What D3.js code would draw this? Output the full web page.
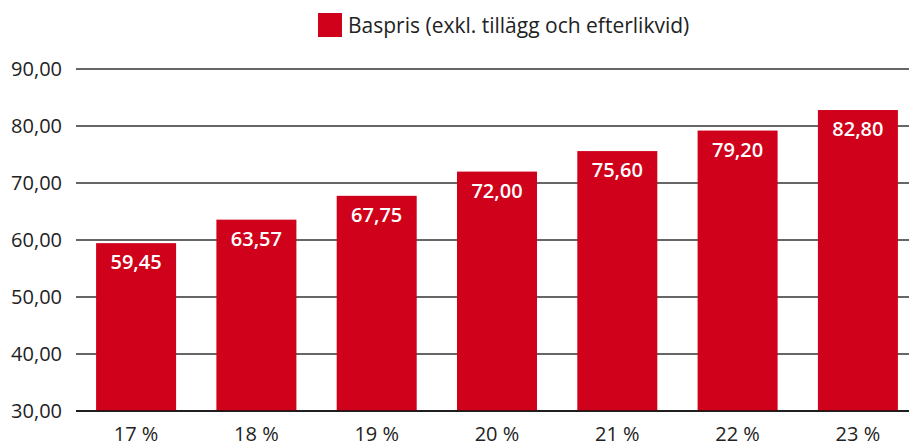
<!DOCTYPE html>
<html><head><meta charset="utf-8">
<script src="https://cdn.jsdelivr.net/npm/d3@7"></script>
<style>body{margin:0;background:#fff}svg{display:block;font-family:"Open Sans",sans-serif}</style>
</head><body>
<svg id="c" width="909" height="447"></svg>
<script>
const categories = ["17 %","18 %","19 %","20 %","21 %","22 %","23 %"];
const values = [59.45,63.57,67.75,72.00,75.60,79.20,82.80];
const yTicks = [30,40,50,60,70,80,90];
const seriesName = "Baspris (exkl. tillägg och efterlikvid)";
const fmt = v => v.toFixed(2).replace(".", ",");
const red = "#d0021b";

const svg = d3.select("#c");
const x = d3.scaleBand().domain(categories).range([76, 918]).paddingInner(0.335).paddingOuter(0.167);
const y = d3.scaleLinear().domain([30, 90]).range([411, 69]);

// gridlines
svg.append("g").selectAll("line").data(yTicks).join("line")
  .attr("x1", 76).attr("x2", 909)
  .attr("y1", d => y(d)).attr("y2", d => y(d))
  .attr("stroke", d => d === 30 ? "#111" : "#333").attr("stroke-width", 1.3);

// y labels
svg.append("g").selectAll("text").data(yTicks).join("text")
  .attr("x", 62).attr("y", d => y(d)).attr("dy", "0.36em")
  .attr("text-anchor", "end").attr("font-size", 20).attr("fill", "#222")
  .text(fmt);

// bars
svg.append("g").selectAll("rect").data(values).join("rect")
  .attr("x", (d, i) => x(categories[i])).attr("width", x.bandwidth())
  .attr("y", d => y(d)).attr("height", d => y(30) - y(d))
  .attr("fill", red);

// redraw baseline on top
svg.append("line").attr("x1", 76).attr("x2", 909).attr("y1", y(30)).attr("y2", y(30))
  .attr("stroke", "#111").attr("stroke-width", 1.3);

// value labels
svg.append("g").selectAll("text").data(values).join("text")
  .attr("x", (d, i) => x(categories[i]) + x.bandwidth() / 2)
  .attr("y", d => y(d) + 26)
  .attr("text-anchor", "middle").attr("font-size", 20).attr("font-weight", 600)
  .attr("fill", "#fff").text(fmt);

// x labels
svg.append("g").selectAll("text").data(categories).join("text")
  .attr("x", d => x(d) + x.bandwidth() / 2).attr("y", 441)
  .attr("text-anchor", "middle").attr("font-size", 20).attr("fill", "#222")
  .text(d => d);

// legend
const lg = svg.append("g");
lg.append("rect").attr("x", 318).attr("y", 13).attr("width", 24).attr("height", 24).attr("fill", red);
lg.append("text").attr("x", 348).attr("y", 25).attr("dy", "0.36em")
  .attr("font-size", 21).attr("fill", "#222").text(seriesName);
</script>
</body></html>
